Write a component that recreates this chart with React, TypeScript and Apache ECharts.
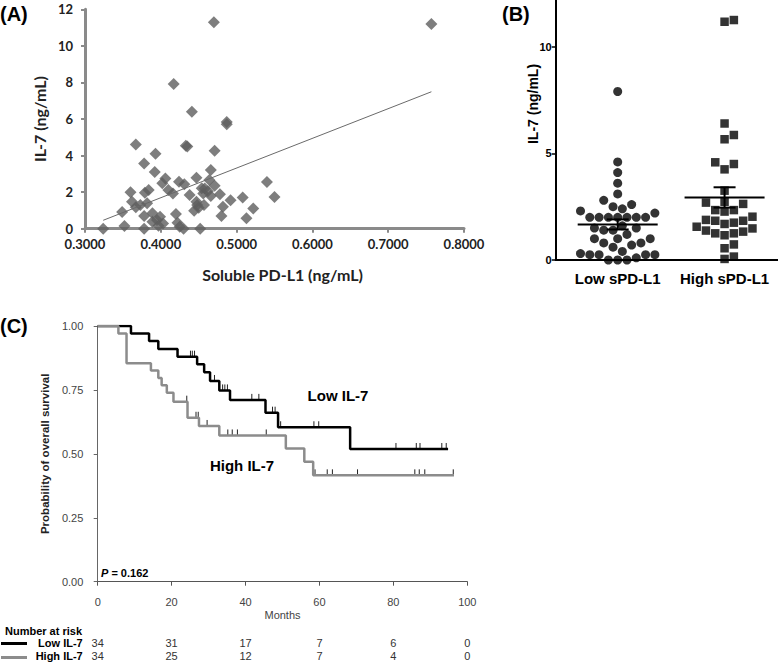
import React, { useEffect, useRef } from "react";
import * as echarts from "echarts";

// ---------- Panel A: scatter ----------
const sPDL1 = [0.324, 0.349, 0.352, 0.360, 0.362, 0.367, 0.367, 0.373, 0.378, 0.379, 0.378, 0.378, 0.384, 0.382, 0.393, 0.392, 0.389, 0.389, 0.395, 0.399, 0.397, 0.403, 0.406, 0.402, 0.410, 0.417, 0.416, 0.420, 0.422, 0.425, 0.430, 0.424, 0.431, 0.433, 0.435, 0.441, 0.438, 0.447, 0.447, 0.444, 0.452, 0.454, 0.456, 0.457, 0.458, 0.462, 0.450, 0.448, 0.464, 0.466, 0.470, 0.471, 0.471, 0.466, 0.478, 0.482, 0.480, 0.487, 0.487, 0.492, 0.508, 0.513, 0.522, 0.540, 0.550, 0.757];
const il7A = [0, 0.91, 0.15, 1.99, 1.48, 4.61, 1.17, 1.29, 3.57, 1.97, 0.69, 0, 2.12, 1.39, 4.10, 3.10, 0.84, 0.38, 0.47, 0.66, 0.16, 0.29, 2.75, 2.48, 2.12, 7.91, 1.93, 0.80, 0.33, 0.11, 0, 2.57, 2.43, 4.54, 4.50, 6.40, 1.84, 2.79, 1.48, 0.98, 0, 2.21, 1.93, 1.29, 2.20, 2.05, 1.15, 1.30, 2.66, 3.21, 11.29, 4.27, 2.35, 1.79, 1.88, 1.20, 0.69, 5.84, 5.71, 1.55, 1.70, 0.57, 1.11, 2.55, 1.73, 11.2];
const trendX = [0.324, 0.757];
const trendY = [0.46, 7.49];
const aXTicks = [0.3, 0.4, 0.5, 0.6, 0.7, 0.8];
const aYTicks = [0, 2, 4, 6, 8, 10, 12];

// ---------- Panel B: dot plot ----------
const bCategories = ["Low sPD-L1", "High sPD-L1"];
const lowSPDL1 = [7.9, 4.6, 4.1, 3.6, 3.1, 2.8, 2.6, 2.5, 2.4, 2.3, 2.2, 2.0, 2.0, 2.0, 2.0, 2.0, 2.0, 2.0, 1.6, 1.5, 1.5, 1.4, 1.4, 1.2, 1.0, 1.0, 1.0, 0.8, 0.8, 0.7, 0.6, 0.4, 0.3, 0.25, 0.25, 0.25, 0.25, 0.1, 0, 0, 0];
const highSPDL1 = [11.17, 11.25, 6.4, 5.66, 5.86, 4.5, 4.25, 4.58, 3.25, 2.69, 2.34, 2.73, 2.34, 2.63, 2.27, 2.03, 1.84, 1.75, 1.69, 1.84, 1.88, 1.56, 1.38, 1.25, 1.16, 1.25, 1.33, 1.48, 0.73, 0.55, 0.05, 0.16];
const bYTicks = [0, 5, 10];

// ---------- Panel C: Kaplan-Meier ----------
const lowT = [0, 9.0, 13.9, 16.4, 21.6, 26.9, 28.8, 30.4, 32.9, 35.8, 45.4, 48.8, 68.3, 94.8];
const lowS = [1, 0.971, 0.941, 0.910, 0.880, 0.850, 0.819, 0.785, 0.748, 0.711, 0.661, 0.604, 0.519, 0.519];
const lowCensor = [25.1, 25.6, 26.2, 31.6, 33.8, 34.4, 35.1, 41.7, 43.6, 47.3, 48.0, 49.5, 58.5, 59.8, 80.7, 86.2, 87.2, 93.1, 94.3];
const highT = [0, 5.6, 7.8, 14.4, 16.4, 17.3, 18.7, 20.5, 24.3, 27.4, 32.9, 50.9, 55.9, 58.3, 96.4];
const highS = [1, 0.971, 0.854, 0.826, 0.797, 0.768, 0.739, 0.704, 0.641, 0.609, 0.572, 0.521, 0.469, 0.416, 0.416];
const highCensor = [24.1, 26.6, 27.2, 29.6, 35.2, 36.4, 37.8, 45.6, 58.8, 62.1, 63.5, 70.3, 85.8, 87.0, 88.5, 96.2];
const riskMonths = [0, 20, 40, 60, 80, 100];
const riskLow = [34, 31, 17, 7, 6, 0];
const riskHigh = [34, 25, 12, 7, 4, 0];
const riskGroups = ["Low IL-7", "High IL-7"];
const pValue = "0.162";

// ---------- helpers ----------
function swarm(vals: number[], diam: number, pxPerX: number, pxPerY: number) {
  const idx = vals.map((_, i) => i).sort((a, b) => vals[a] - vals[b]);
  const placed: { x: number; y: number }[] = [];
  const off = new Array(vals.length).fill(0);
  for (const i of idx) {
    const y = vals[i] * pxPerY;
    for (let k = 0; k < 200; k++) {
      const s = k === 0 ? 0 : k % 2 === 1 ? Math.ceil(k / 2) : -Math.ceil(k / 2);
      const x = (s * diam) / 2;
      if (placed.every((p) => (p.x - x) ** 2 + (p.y - y) ** 2 >= diam * diam * 0.97)) {
        placed.push({ x, y });
        off[i] = x / pxPerX;
        break;
      }
    }
  }
  return off;
}
function meanSem(v: number[]) {
  const n = v.length;
  const m = v.reduce((a, b) => a + b, 0) / n;
  const sd = Math.sqrt(v.reduce((a, b) => a + (b - m) ** 2, 0) / (n - 1));
  return [m, sd / Math.sqrt(n)];
}
function survAt(T: number[], S: number[], t: number) {
  let s = S[0];
  for (let i = 0; i < T.length; i++) if (T[i] <= t) s = S[i];
  return s;
}

const ARIAL = '"Liberation Sans", Arial, sans-serif';
const CAL = 'Lato, "Open Sans", sans-serif';

export default function App() {
  const ref = useRef<HTMLDivElement>(null);
  useEffect(() => {
    document.body.style.margin = "0";
    if (!ref.current) return;
    const chart = echarts.init(ref.current, undefined, { renderer: "svg" });

    const bPxX = 106.9;
    const bPxY = 21.33;
    const lowOff = swarm(lowSPDL1, 9.3, bPxX, bPxY);
    const highOff = swarm(highSPDL1, 9.3, bPxX, bPxY);
    const ms = [meanSem(lowSPDL1), meanSem(highSPDL1)];

    const aGray = "#8a8a8a";

    const option: any = {
      animation: false,
      grid: [
        { left: 85, top: 9.3, width: 379, height: 219.4 },
        { left: 555.7, top: 0, right: 0, height: 260 },
        { left: 97.7, top: 326, width: 369.6, height: 255.7 },
        { left: 97.7, top: 636.3, width: 369.6, height: 28 },
      ],
      xAxis: [
        {
          gridIndex: 0, type: "value", min: 0.3, max: 0.8,
          axisLine: { lineStyle: { color: aGray, width: 3 } },
          axisTick: { length: 4, lineStyle: { color: aGray, width: 2 }, customValues: aXTicks },
          axisLabel: { customValues: aXTicks, formatter: (v: number) => v.toFixed(4), color: "#222", fontFamily: CAL, fontWeight: "bold", fontSize: 13, margin: 9 },
          splitLine: { show: false },
          name: "Soluble PD-L1 (ng/mL)", nameLocation: "middle", nameGap: 38,
          nameTextStyle: { color: "#222", fontFamily: CAL, fontWeight: "bold", fontSize: 16, padding: [0, 0, 0, 16] },
        },
        {
          gridIndex: 1, type: "value", min: 0.42, max: 2.5,
          axisLine: { lineStyle: { color: "#000", width: 2 } },
          axisTick: { show: false },
          axisLabel: { customValues: [1, 2], formatter: (v: number) => bCategories[Math.round(v) - 1] || "", color: "#000", fontFamily: ARIAL, fontWeight: "bold", fontSize: 15, margin: 11 },
          splitLine: { show: false },
        },
        {
          gridIndex: 2, type: "value", min: 0, max: 100, interval: 20, offset: 9,
          axisLine: { lineStyle: { color: "#555", width: 1 } },
          axisTick: { length: 4, lineStyle: { color: "#555" } },
          axisLabel: { color: "#444", fontFamily: ARIAL, fontSize: 11, margin: 6 },
          splitLine: { show: false },
          name: "Months", nameLocation: "middle", nameGap: 19,
          nameTextStyle: { color: "#444", fontFamily: ARIAL, fontSize: 11 },
        },
        { gridIndex: 3, type: "value", min: 0, max: 100, show: false },
      ],
      yAxis: [
        {
          gridIndex: 0, type: "value", min: 0, max: 12,
          axisLine: { show: true, lineStyle: { color: aGray, width: 3 } },
          axisTick: { show: true, length: 4, lineStyle: { color: aGray, width: 2 }, customValues: aYTicks },
          axisLabel: { customValues: aYTicks, color: "#222", fontFamily: CAL, fontWeight: "bold", fontSize: 13, margin: 12 },
          splitLine: { show: false },
          name: "IL-7 (ng/mL)", nameLocation: "middle", nameGap: 38,
          nameTextStyle: { color: "#222", fontFamily: CAL, fontWeight: "bold", fontSize: 16, padding: [0, 0, 0, 0] },
        },
        {
          gridIndex: 1, type: "value", min: 0, max: 260 / 21.33,
          axisLine: { show: true, lineStyle: { color: "#000", width: 2 } },
          axisTick: { show: true, length: 4, lineStyle: { color: "#000", width: 1.5 }, customValues: bYTicks },
          axisLabel: { customValues: bYTicks, color: "#000", fontFamily: ARIAL, fontWeight: "bold", fontSize: 11, margin: 4 },
          splitLine: { show: false },
        },
        {
          gridIndex: 2, type: "value", min: 0, max: 1, interval: 0.25, offset: 8.4,
          axisLine: { show: true, lineStyle: { color: "#666", width: 1 } },
          axisTick: { show: true, length: 4, lineStyle: { color: "#666" } },
          axisLabel: { formatter: (v: number) => v.toFixed(2), color: "#444", fontFamily: ARIAL, fontSize: 11, margin: 6 },
          splitLine: { show: false },
          name: "Probability of overall survival", nameLocation: "middle", nameGap: 38,
          nameTextStyle: { color: "#222", fontFamily: ARIAL, fontWeight: "bold", fontSize: 11.5 },
        },
        {
          gridIndex: 3, type: "category", data: riskGroups, inverse: true,
          axisLine: { show: false }, axisTick: { show: false },
          axisLabel: { interval: 0, color: "#000", fontFamily: ARIAL, fontWeight: "bold", fontSize: 11, margin: 15 },
        },
      ],
      series: [
        // A
        {
          type: "scatter", xAxisIndex: 0, yAxisIndex: 0, symbol: "diamond", symbolSize: 12,
          itemStyle: { color: "#5e5e5e" },
          data: sPDL1.map((x, i) => [x, il7A[i]]),
        },
        {
          type: "line", xAxisIndex: 0, yAxisIndex: 0, showSymbol: false, symbol: "none",
          lineStyle: { color: "#6a6a6a", width: 1 },
          data: trendX.map((x, i) => [x, trendY[i]]),
        },
        // B
        {
          type: "scatter", xAxisIndex: 1, yAxisIndex: 1, symbol: "circle", symbolSize: 9,
          itemStyle: { color: "#000" },
          data: lowSPDL1.map((v, i) => [1 + lowOff[i], v]),
        },
        {
          type: "scatter", xAxisIndex: 1, yAxisIndex: 1, symbol: "rect", symbolSize: 8.5,
          itemStyle: { color: "#000" },
          data: highSPDL1.map((v, i) => [2 + highOff[i], v]),
        },
        {
          type: "custom", xAxisIndex: 1, yAxisIndex: 1,
          data: ms.map((m, i) => [i + 1, m[0], m[1]]),
          renderItem: (params: any, api: any) => {
            const x = api.value(0), m = api.value(1), s = api.value(2);
            const c = api.coord([x, m]);
            const t = api.coord([x, m + s]);
            const b = api.coord([x, m - s]);
            const st = { stroke: "#000", lineWidth: 2 };
            return {
              type: "group",
              children: [
                { type: "line", shape: { x1: c[0] - 40, y1: c[1], x2: c[0] + 40, y2: c[1] }, style: st },
                { type: "line", shape: { x1: c[0], y1: t[1], x2: c[0], y2: b[1] }, style: st },
                { type: "line", shape: { x1: c[0] - 11, y1: t[1], x2: c[0] + 11, y2: t[1] }, style: st },
                { type: "line", shape: { x1: c[0] - 11, y1: b[1], x2: c[0] + 11, y2: b[1] }, style: st },
              ],
            };
          },
        },
        // C
        {
          type: "line", xAxisIndex: 2, yAxisIndex: 2, step: "end", showSymbol: false, symbol: "none",
          lineStyle: { color: "#000", width: 2.5 },
          data: lowT.map((t, i) => [t, lowS[i]]),
        },
        {
          type: "line", xAxisIndex: 2, yAxisIndex: 2, step: "end", showSymbol: false, symbol: "none",
          lineStyle: { color: "#8c8c8c", width: 2.5 },
          data: highT.map((t, i) => [t, highS[i]]),
        },
        {
          type: "custom", xAxisIndex: 2, yAxisIndex: 2,
          data: [
            ...lowCensor.map((t) => [t, survAt(lowT, lowS, t)]),
            ...highCensor.map((t) => [t, survAt(highT, highS, t)]),
          ],
          renderItem: (params: any, api: any) => {
            const p = api.coord([api.value(0), api.value(1)]);
            return { type: "line", shape: { x1: p[0], y1: p[1], x2: p[0], y2: p[1] - 6 }, style: { stroke: "#222", lineWidth: 1 } };
          },
        },
        // risk table
        {
          type: "custom", xAxisIndex: 3, yAxisIndex: 3,
          data: [
            ...riskMonths.map((m, i) => [m, 0, riskLow[i]]),
            ...riskMonths.map((m, i) => [m, 1, riskHigh[i]]),
          ],
          renderItem: (params: any, api: any) => {
            const p = api.coord([api.value(0), api.value(1)]);
            return {
              type: "text", x: p[0], y: p[1],
              style: { text: String(api.value(2)), fill: "#333", font: `11px ${ARIAL}`, align: "center", verticalAlign: "middle" },
            };
          },
        },
      ],
      graphic: [
        { type: "text", left: 0, top: 4, style: { text: "(A)", font: `bold 20px ${ARIAL}`, fill: "#000" } },
        { type: "text", left: 502, top: 4, style: { text: "(B)", font: `bold 20px ${ARIAL}`, fill: "#000" } },
        { type: "text", left: 0, top: 316, style: { text: "(C)", font: `bold 20px ${ARIAL}`, fill: "#000" } },
        { type: "text", x: 533, y: 104, rotation: Math.PI / 2, style: { text: "IL-7 (ng/mL)", font: `bold 14px ${ARIAL}`, fill: "#000", align: "center", verticalAlign: "middle" } },
        { type: "text", x: 338, y: 395, style: { text: "Low IL-7", font: `bold 15px ${ARIAL}`, fill: "#000", align: "center", verticalAlign: "middle" } },
        { type: "text", x: 242, y: 465, style: { text: "High IL-7", font: `bold 15px ${ARIAL}`, fill: "#000", align: "center", verticalAlign: "middle" } },
        {
          type: "text", x: 101, y: 573,
          style: {
            text: "{i|P} = " + pValue, font: `bold 11px ${ARIAL}`, fill: "#000", verticalAlign: "middle",
            rich: { i: { fontStyle: "italic", fontWeight: "bold", fontSize: 11, fontFamily: ARIAL } },
          },
        },
        { type: "text", x: 5, y: 631, style: { text: "Number at risk", font: `bold 11px ${ARIAL}`, fill: "#000", align: "left", verticalAlign: "middle" } },
        { type: "line", shape: { x1: 1, y1: 643.5, x2: 27, y2: 643.5 }, style: { stroke: "#000", lineWidth: 3 } },
        { type: "line", shape: { x1: 1, y1: 657.5, x2: 27, y2: 657.5 }, style: { stroke: "#8c8c8c", lineWidth: 3 } },
      ],
    };
    chart.setOption(option);
    return () => chart.dispose();
  }, []);
  return <div ref={ref} style={{ width: 778, height: 663 }} />;
}
